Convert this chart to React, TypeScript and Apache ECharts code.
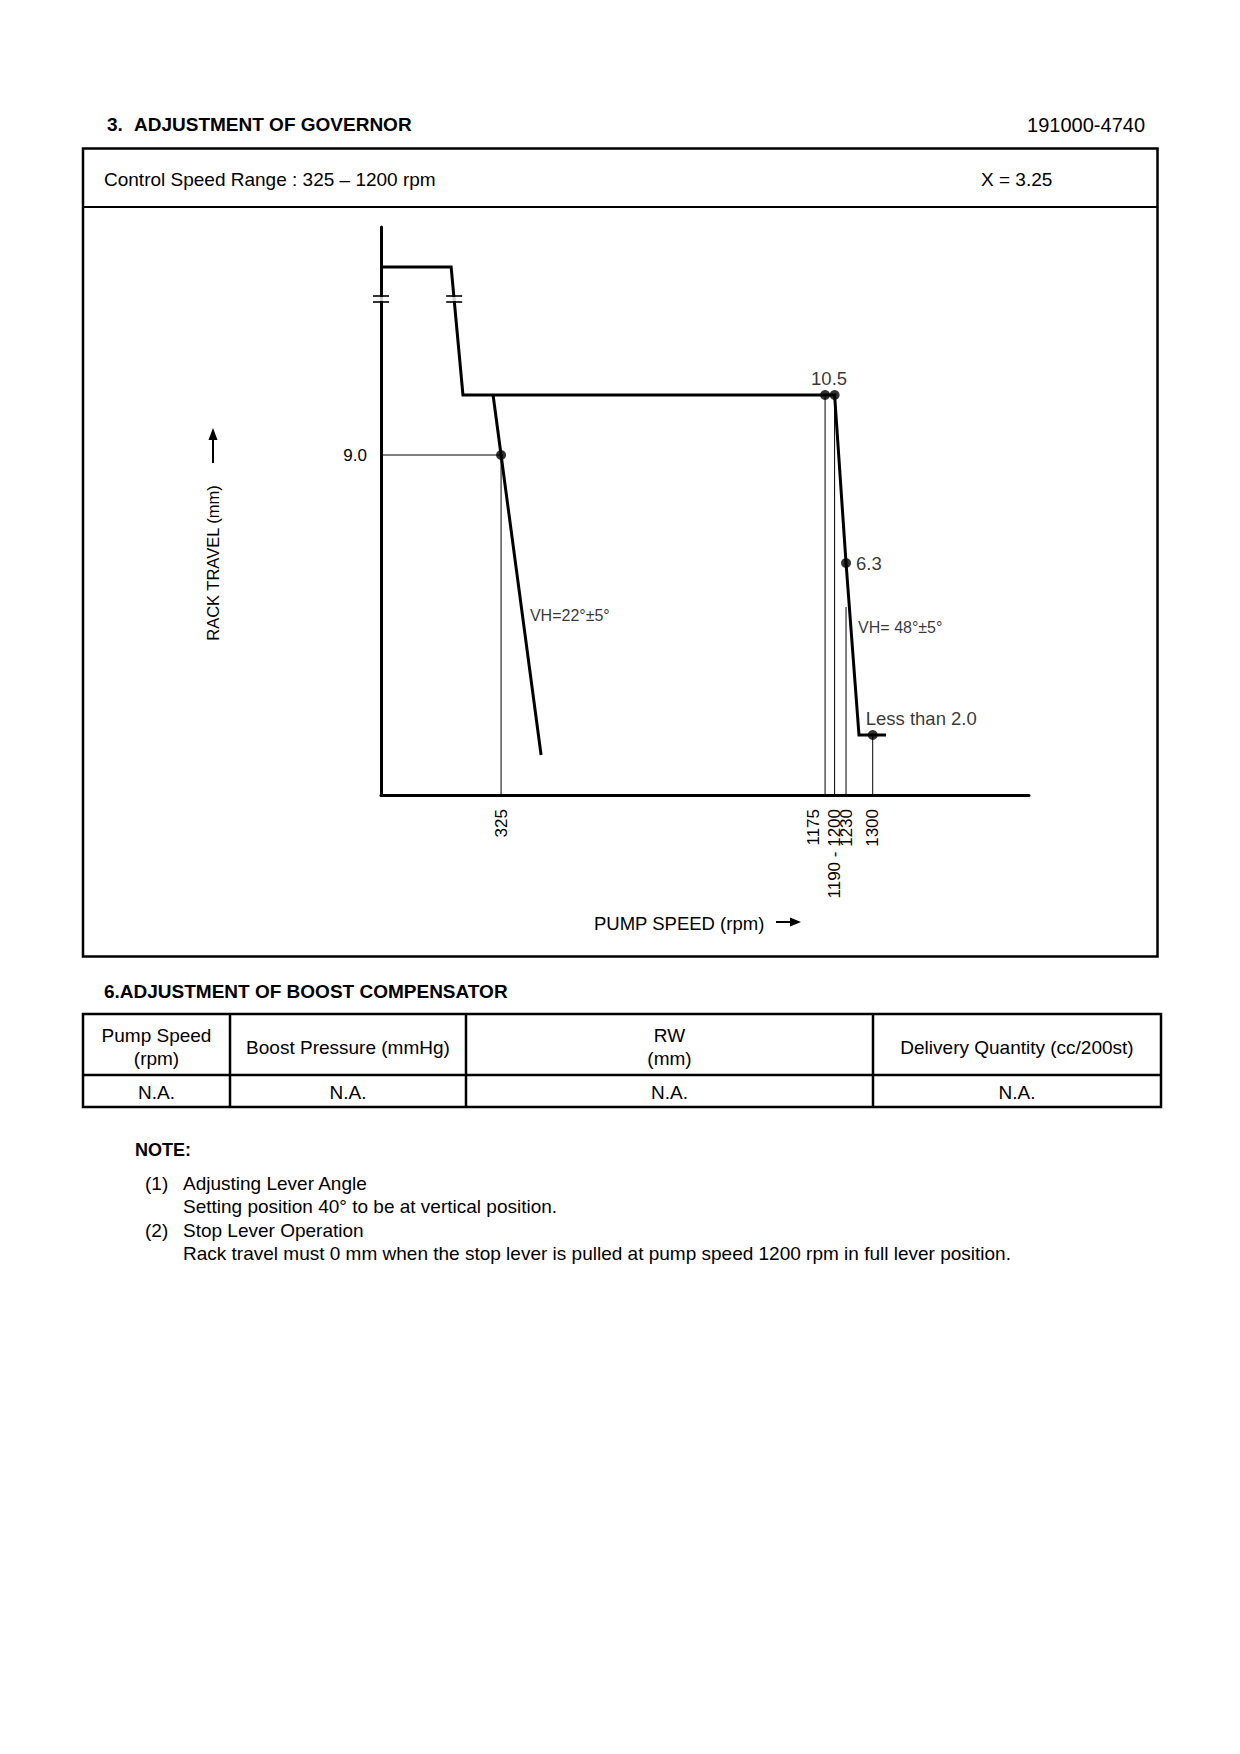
import React, { useEffect, useRef } from 'react';
import * as echarts from 'echarts';

const FONT = "'Liberation Sans', Arial, Helvetica, sans-serif";
const INK = '#000';

// ---- Governor diagram data: pump speed (rpm) vs rack travel (mm) ----
const fullLoadCurve: [number, number][] = [
  [10, 13.7], [194, 13.7], [225, 10.5], [1200, 10.5], [1230, 6.3], [1264, 2.0], [1335, 2.0],
];
const idleGovernorLine: [number, number][] = [[304, 10.5], [325, 9.0], [430, 1.5]];
const guideLines: [number, number][][] = [
  [[10, 9.0], [325, 9.0]],
  [[325, 0.5], [325, 9.0]],
  [[1175, 0.5], [1175, 10.5]],
  [[1200, 0.5], [1200, 10.5]],
  [[1230, 0.5], [1230, 5.2]],
  [[1300, 0.5], [1300, 2.0]],
];
const measurePoints: [number, number][] = [[325, 9.0], [1175, 10.5], [1200, 10.5], [1230, 6.3], [1300, 2.0]];
const measureLabels = ['', '10.5', '', '6.3', 'Less than 2.0'];
const breakPoints: [number, number][] = [[10, 12.9], [202, 12.9]];
const slopeNotes: [number, number][] = [[381, 5.0], [1242, 4.7]];
const slopeNoteTexts = ['VH=22°±5°', 'VH= 48°±5°'];
const xTickValues = [325, 1175, 1200, 1230, 1300];
const xTickLabels = ['325', '1175', '1190 - 1200', '1230', '1300'];
const shiftedXTicks = [1175];
const yTickValues = [9.0];
const xRange = [10, 1710];
const yRange = [0.5, 14.7];

// ---- Document texts ----
const titleNumber = '3.';
const titleText = 'ADJUSTMENT OF GOVERNOR';
const partNumber = '191000-4740';
const controlRange = 'Control Speed Range : 325 – 1200 rpm';
const xFactor = 'X = 3.25';
const yAxisTitle = 'RACK TRAVEL (mm)';
const xAxisTitle = 'PUMP SPEED (rpm)';
const boostTitle = '6.ADJUSTMENT OF BOOST COMPENSATOR';
const tableHeaders = ['Pump Speed\n(rpm)', 'Boost Pressure (mmHg)', 'RW\n(mm)', 'Delivery Quantity (cc/200st)'];
const tableRow = ['N.A.', 'N.A.', 'N.A.', 'N.A.'];
const noteTitle = 'NOTE:';
const noteNumbers = ['(1)', '', '(2)', ''];
const noteLines = [
  'Adjusting Lever Angle',
  'Setting position 40° to be at vertical position.',
  'Stop Lever Operation',
  'Rack travel must 0 mm when the stop lever is pulled at pump speed 1200 rpm in full lever position.',
];

const pointLabelPlacement: Record<string, any> = {
  '10.5': { position: 'top', distance: 2, offset: [4, 0] },
  '6.3': { position: 'right', distance: 5 },
  'Less than 2.0': { position: 'top', distance: 2, align: 'left', offset: [-7, 0] },
};

function txt(text: string, x: number, y: number, opts: any = {}, el: any = {}) {
  return {
    type: 'text',
    x,
    y,
    silent: true,
    ...el,
    style: {
      text,
      fill: INK,
      fontFamily: FONT,
      fontSize: 19,
      fontWeight: 'normal',
      align: 'left',
      verticalAlign: 'middle',
      ...opts,
    },
  };
}

function hline(x1: number, x2: number, y: number, w: number) {
  return { type: 'line', silent: true, shape: { x1, y1: y, x2, y2: y }, style: { stroke: INK, lineWidth: w } };
}
function vline(x: number, y1: number, y2: number, w: number) {
  return { type: 'line', silent: true, shape: { x1: x, y1, x2: x, y2 }, style: { stroke: INK, lineWidth: w } };
}

function buildGraphic() {
  const g: any[] = [];
  // Header
  g.push(txt(titleNumber, 107, 124.5, { fontSize: 19, fontWeight: 'bold' }));
  g.push(txt(titleText, 134, 124.5, { fontSize: 19, fontWeight: 'bold' }));
  g.push(txt(partNumber, 1145, 125, { fontSize: 20, align: 'right' }));
  // Main box
  g.push({ type: 'rect', silent: true, shape: { x: 83, y: 148.5, width: 1074.5, height: 808 }, style: { fill: 'none', stroke: INK, lineWidth: 2.5 } });
  g.push(hline(83, 1157.5, 207, 2));
  g.push(txt(controlRange, 104, 179));
  g.push(txt(xFactor, 981, 179));
  // Axis titles
  g.push(txt(yAxisTitle, 213, 563, { fontSize: 16.5, align: 'center' }, { rotation: Math.PI / 2 }));
  g.push(vline(213, 463, 438, 2));
  g.push({ type: 'polygon', silent: true, shape: { points: [[208.5, 440], [213, 428], [217.5, 440]] }, style: { fill: INK } });
  g.push(txt(xAxisTitle, 594, 923, { fontSize: 18.5 }));
  g.push(hline(776, 793, 922, 2));
  g.push({ type: 'polygon', silent: true, shape: { points: [[790, 917.5], [801, 922], [790, 926.5]] }, style: { fill: INK } });

  // Boost compensator table
  g.push(txt(boostTitle, 104, 991, { fontSize: 19, fontWeight: 'bold' }));
  const cols = [83, 230, 466, 873, 1161];
  const top = 1014;
  const mid = 1075;
  const bottom = 1107;
  g.push({ type: 'rect', silent: true, shape: { x: cols[0], y: top, width: cols[4] - cols[0], height: bottom - top }, style: { fill: 'none', stroke: INK, lineWidth: 2.5 } });
  g.push(hline(cols[0], cols[4], mid, 2.5));
  for (let i = 1; i < cols.length - 1; i++) g.push(vline(cols[i], top, bottom, 2.5));
  tableHeaders.forEach((h, i) => {
    const cx = (cols[i] + cols[i + 1]) / 2;
    g.push(txt(h, cx, 1047, { align: 'center', lineHeight: 23 }));
    g.push(txt(tableRow[i], cx, 1092, { align: 'center' }));
  });

  // Notes
  g.push(txt(noteTitle, 135, 1150, { fontWeight: 'bold', fontSize: 18 }));
  const noteY = [1183, 1206, 1230, 1253];
  noteLines.forEach((line, i) => {
    if (noteNumbers[i]) g.push(txt(noteNumbers[i], 145, noteY[i]));
    g.push(txt(line, 183, noteY[i]));
  });
  return g;
}

function buildOption() {
  const labelFont = { fontFamily: FONT, color: INK };
  const series: any[] = [];
  guideLines.forEach((seg, i) => {
    series.push({
      type: 'line',
      name: 'guide' + i,
      data: seg,
      symbol: 'none',
      silent: true,
      lineStyle: { color: INK, width: 1 },
      z: 2,
    });
  });
  series.push({
    type: 'line',
    name: 'Full load / max speed governor',
    data: fullLoadCurve,
    symbol: 'none',
    silent: true,
    lineStyle: { color: INK, width: 3, join: 'miter' },
    z: 3,
  });
  series.push({
    type: 'line',
    name: 'Idle governor',
    data: idleGovernorLine,
    symbol: 'none',
    silent: true,
    lineStyle: { color: INK, width: 3 },
    z: 3,
  });
  series.push({
    type: 'scatter',
    name: 'breakGap',
    data: breakPoints,
    symbol: 'rect',
    symbolSize: [12, 4],
    itemStyle: { color: '#fff' },
    silent: true,
    z: 4,
  });
  series.push({
    type: 'scatter',
    name: 'breakMarks',
    data: breakPoints,
    symbol: 'path://M0 0L16 0L16 2L0 2Z M0 6L16 6L16 8L0 8Z',
    symbolSize: [16, 8],
    itemStyle: { color: INK },
    silent: true,
    z: 5,
  });
  series.push({
    type: 'scatter',
    name: 'points',
    data: measurePoints.map((p, i) => ({
      value: p,
      label: measureLabels[i]
        ? { show: true, formatter: measureLabels[i], ...pointLabelPlacement[measureLabels[i]] }
        : { show: false },
    })),
    symbol: 'circle',
    symbolSize: 10,
    itemStyle: { color: INK },
    label: { fontSize: 18.5, ...labelFont },
    silent: true,
    z: 6,
  });
  series.push({
    type: 'scatter',
    name: 'slopeNotes',
    data: slopeNotes.map((p, i) => ({ value: p, name: slopeNoteTexts[i] })),
    symbolSize: 1,
    itemStyle: { color: 'rgba(0,0,0,0)' },
    label: { show: true, position: 'right', distance: 7, formatter: '{b}', fontSize: 16, ...labelFont },
    silent: true,
    z: 6,
  });

  return {
    animation: false,
    backgroundColor: '#fff',
    grid: { left: 381, top: 227, width: 648, height: 568, show: false, outerBoundsMode: 'none' },
    xAxis: {
      type: 'value',
      min: xRange[0],
      max: xRange[1],
      axisLine: { show: true, onZero: false, lineStyle: { color: INK, width: 3 } },
      axisTick: { show: false },
      splitLine: { show: false },
      axisLabel: {
        show: true,
        customValues: xTickValues,
        rotate: 90,
        margin: 14,
        fontSize: 17,
        lineHeight: 24,
        ...labelFont,
        formatter: (v: number) => {
          const i = xTickValues.indexOf(v);
          const s = i >= 0 ? xTickLabels[i] : '';
          return shiftedXTicks.indexOf(v) >= 0 ? s + '\n' : s;
        },
      },
    },
    yAxis: {
      type: 'value',
      min: yRange[0],
      max: yRange[1],
      axisLine: { show: true, onZero: false, lineStyle: { color: INK, width: 3 } },
      axisTick: { show: false },
      splitLine: { show: false },
      axisLabel: {
        show: true,
        customValues: yTickValues,
        margin: 14,
        fontSize: 17,
        ...labelFont,
        formatter: (v: number) => v.toFixed(1),
      },
    },
    series,
    graphic: buildGraphic(),
  };
}

export default function App() {
  const ref = useRef<HTMLDivElement>(null);
  useEffect(() => {
    if (!ref.current) return;
    const chart = echarts.init(ref.current, null, { renderer: 'svg' });
    chart.setOption(buildOption() as any);
    return () => chart.dispose();
  }, []);
  return (
    <div
      ref={ref}
      style={{ position: 'absolute', left: 0, top: 0, width: 1240, height: 1754, background: '#fff' }}
    />
  );
}
